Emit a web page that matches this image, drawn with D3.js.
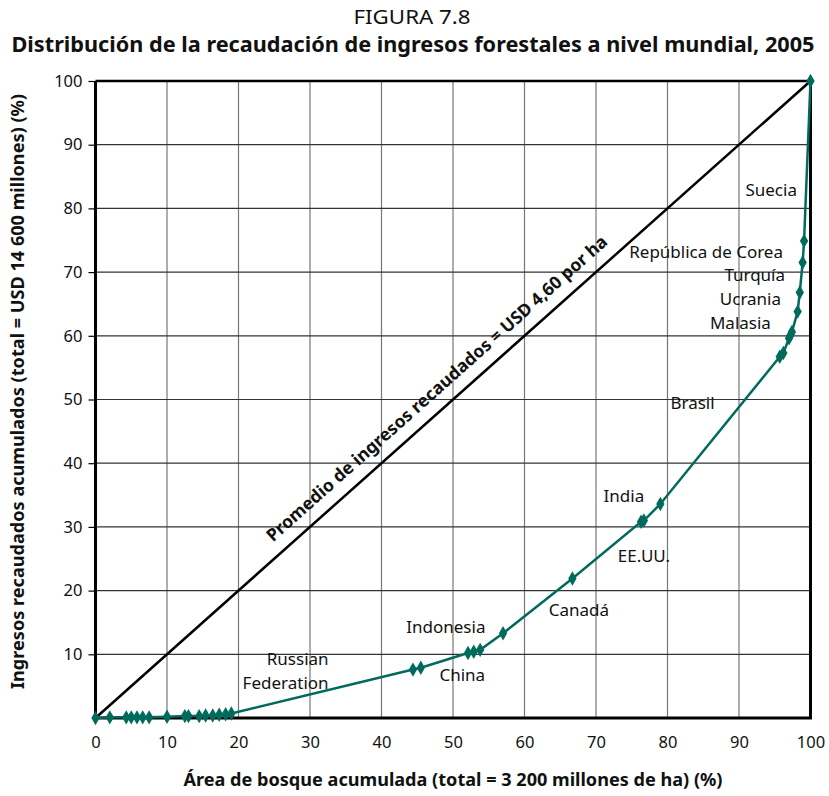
<!DOCTYPE html>
<html><head><meta charset="utf-8">
<script src="https://cdn.jsdelivr.net/npm/d3@7"></script>
<style>body{margin:0;background:#fff}svg{display:block}text{font-family:"Noto Sans","Open Sans",sans-serif;fill:#111}</style>
</head><body><svg id="c" width="829" height="796"></svg>
<script>
const areaPct = [0, 2.0, 4.3, 5.0, 5.8, 6.6, 7.5, 10.0, 12.5, 13.0, 14.5, 15.4, 16.4, 17.3, 18.2, 19.0, 44.4, 45.5, 52.1, 52.9, 53.8, 57.0, 66.7, 76.3, 76.7, 79.0, 95.7, 96.2, 97.0, 97.2, 97.4, 98.2, 98.5, 98.9, 99.1, 100];
const revenuePct = [0, 0.1, 0.1, 0.1, 0.1, 0.1, 0.1, 0.2, 0.3, 0.3, 0.3, 0.4, 0.4, 0.5, 0.6, 0.7, 7.6, 7.9, 10.2, 10.4, 10.7, 13.3, 21.9, 30.8, 31.0, 33.6, 56.7, 57.3, 59.6, 60.1, 60.6, 63.8, 66.8, 71.5, 74.9, 100];
const xTicks = [0,10,20,30,40,50,60,70,80,90,100];
const yTicks = [10,20,30,40,50,60,70,80,90,100];
const labelNames = ["Suecia","República de Corea","Turquía","Ucrania","Malasia","Brasil","India","EE.UU.","Canadá","Indonesia","China"];
const labelX = [94.5, 85.4, 92.2, 91.6, 90.2, 83.5, 73.9, 76.7, 67.6, 49.0, 51.3];
const labelY = [82.9, 73.2, 69.5, 65.7, 62.0, 49.5, 34.9, 25.4, 17.0, 14.3, 6.8];
const russiaLines = ["Russian","Federation"];
const russiaX = 32.6, russiaY = [9.3, 5.5];
const title1 = "FIGURA 7.8";
const title2 = "Distribución de la recaudación de ingresos forestales a nivel mundial, 2005";
const xTitle = "Área de bosque acumulada (total = 3 200 millones de ha) (%)";
const yTitle = "Ingresos recaudados acumulados (total = USD 14 600 millones) (%)";
const diagLabel = "Promedio de ingresos recaudados = USD 4,60 por ha";

const svg = d3.select("#c");
const L=95.5,R=810.5,T=81,B=718;
const x = d3.scaleLinear().domain([0,100]).range([L,R]);
const y = d3.scaleLinear().domain([0,100]).range([B,T]);
const green = "#006b5c";

svg.append("text").attr("x",412).attr("y",24).attr("text-anchor","middle").attr("font-size",19).attr("textLength",117).attr("lengthAdjust","spacingAndGlyphs").text(title1);
svg.append("text").attr("x",413).attr("y",52).attr("text-anchor","middle").attr("font-size",21).attr("font-weight","bold").attr("textLength",803).attr("lengthAdjust","spacingAndGlyphs").text(title2);

// grid
svg.append("g").selectAll("line").data(xTicks.filter(d=>d>0&&d<100)).join("line")
  .attr("x1",d=>x(d)).attr("x2",d=>x(d)).attr("y1",T).attr("y2",B).attr("stroke","#777").attr("stroke-width",1.2);
svg.append("g").selectAll("line").data(yTicks.filter(d=>d<100)).join("line")
  .attr("x1",L).attr("x2",R).attr("y1",d=>y(d)).attr("y2",d=>y(d)).attr("stroke","#333").attr("stroke-width",1.2);

// borders
svg.append("line").attr("x1",L).attr("x2",R).attr("y1",T).attr("y2",T).attr("stroke","#000").attr("stroke-width",2.5);
svg.append("line").attr("x1",R).attr("x2",R).attr("y1",T).attr("y2",B).attr("stroke","#000").attr("stroke-width",3);

// axes
const yAxis = svg.append("g").attr("transform",`translate(${L},0)`)
  .call(d3.axisLeft(y).tickValues(yTicks).tickSize(7).tickPadding(6));
yAxis.select(".domain").attr("stroke","#000").attr("stroke-width",3).attr("d",`M0,${B+1.5}V${T}`);
yAxis.selectAll(".tick line").attr("stroke","#000").attr("stroke-width",1.2);
yAxis.selectAll(".tick text").attr("font-size",16.5).attr("font-family","Noto Sans").attr("fill","#111");

const xAxis = svg.append("g").attr("transform",`translate(0,${B})`)
  .call(d3.axisBottom(x).tickValues(xTicks).tickSize(0).tickPadding(18));
xAxis.select(".domain").attr("stroke","#000").attr("stroke-width",3).attr("d",`M${L-1.5},0H${R+1.5}`);
xAxis.selectAll(".tick text").attr("font-size",16.5).attr("font-family","Noto Sans").attr("fill","#111");

// diagonal
svg.append("line").attr("x1",x(0)).attr("y1",y(0)).attr("x2",x(100)).attr("y2",y(100)).attr("stroke","#000").attr("stroke-width",2.5);
const ang = Math.atan2(y(100)-y(0), x(100)-x(0))*180/Math.PI;
svg.append("text").attr("transform",`translate(${x(49.5)},${y(49.5)}) rotate(${ang}) translate(0,-13)`)
  .attr("text-anchor","middle").attr("font-size",17.5).attr("font-weight","bold").text(diagLabel);

// series
const pts = areaPct.map((a,i)=>[a,revenuePct[i]]);
svg.append("path").datum(pts).attr("fill","none").attr("stroke",green).attr("stroke-width",2.5)
  .attr("d",d3.line().x(d=>x(d[0])).y(d=>y(d[1])));
svg.append("g").selectAll("path").data(pts).join("path")
  .attr("transform",d=>`translate(${x(d[0])},${y(d[1])})`)
  .attr("d",d3.symbol(d3.symbolDiamond,60)).attr("fill",green);

// labels
svg.append("g").selectAll("text").data(labelNames).join("text")
  .attr("x",(d,i)=>x(labelX[i])).attr("y",(d,i)=>y(labelY[i])).attr("dy","0.35em")
  .attr("text-anchor","middle").attr("font-size",17).text(d=>d);
svg.append("g").selectAll("text").data(russiaLines).join("text")
  .attr("x",x(russiaX)).attr("y",(d,i)=>y(russiaY[i])).attr("dy","0.35em")
  .attr("text-anchor","end").attr("font-size",17).text(d=>d);

// axis titles
svg.append("text").attr("x",453).attr("y",786).attr("text-anchor","middle").attr("font-size",17).attr("font-weight","bold").attr("textLength",539).attr("lengthAdjust","spacingAndGlyphs").text(xTitle);
svg.append("text").attr("transform",`translate(24,${(T+B)/2-8}) rotate(-90)`).attr("text-anchor","middle").attr("font-size",17).attr("font-weight","bold").attr("textLength",595).attr("lengthAdjust","spacingAndGlyphs").text(yTitle);
</script></body></html>
